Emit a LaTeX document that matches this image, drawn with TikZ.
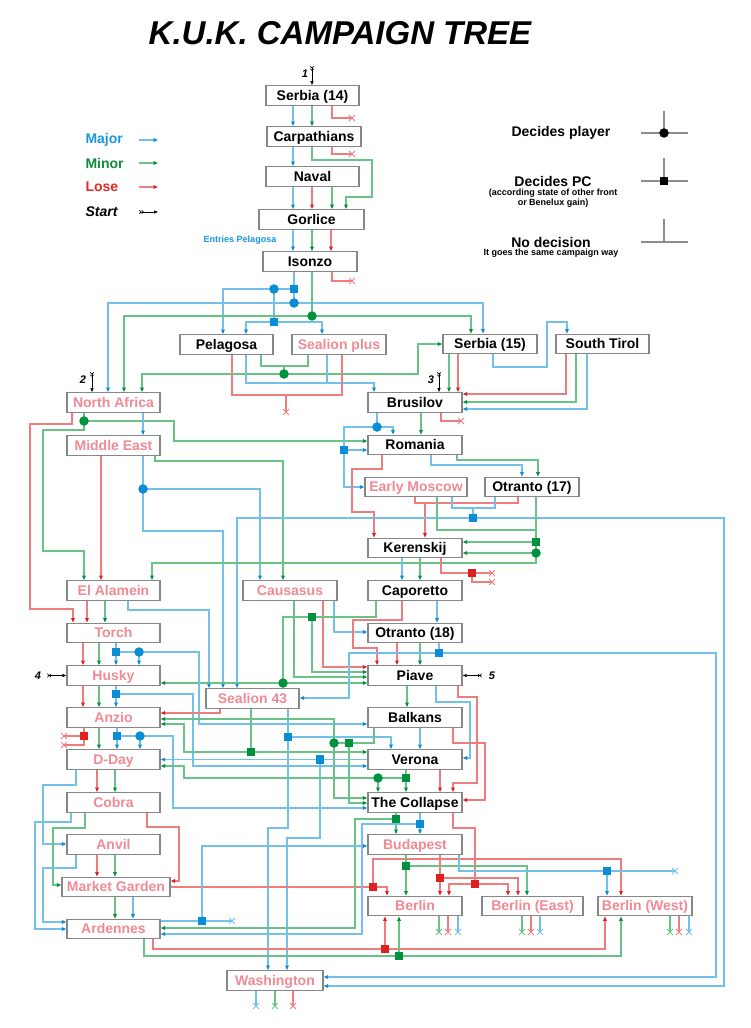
\documentclass[tikz,border=0pt]{standalone}
\usepackage{fontspec}
\setmainfont{Liberation Sans}
\usetikzlibrary{arrows.meta,shapes.misc}
\definecolor{lnB}{RGB}{115,192,235}
\definecolor{lnG}{RGB}{105,195,135}
\definecolor{lnR}{RGB}{240,125,125}
\definecolor{mkB}{RGB}{10,140,215}
\definecolor{mkG}{RGB}{0,145,60}
\definecolor{mkR}{RGB}{222,32,32}
\definecolor{pinkT}{RGB}{240,138,148}
\definecolor{boxG}{RGB}{135,135,135}
\definecolor{legB}{RGB}{25,150,222}
\definecolor{legG}{RGB}{15,140,60}
\definecolor{legR}{RGB}{228,40,40}
\definecolor{symG}{RGB}{140,140,140}
\pgfdeclarelayer{back}\pgfdeclarelayer{bg}\pgfsetlayers{back,bg,main}
\begin{document}
\begin{tikzpicture}[x=1pt,y=-1pt,
 bx/.style={draw=boxG,line width=1.4pt,fill=white,minimum height=19.5pt,inner sep=0pt,text height=11pt,text depth=2pt,font=\fontsize{14}{16}\selectfont\bfseries},
 bk/.style={bx,text=black,minimum width=#1pt},
 pk/.style={bx,text=pinkT,minimum width=#1pt},
 nB/.style={draw=lnB,line width=1.1pt},
 nG/.style={draw=lnG,line width=1.1pt},
 nR/.style={draw=lnR,line width=1.1pt},
 aB/.style={nB,-{Triangle[length=4.5pt,width=3.6pt,color=mkB]}},
 aG/.style={nG,-{Triangle[length=4.5pt,width=3.6pt,color=mkG]}},
 aR/.style={nR,-{Triangle[length=4.5pt,width=3.6pt,color=mkR]}},
 sqB/.style={rectangle,fill=mkB,minimum size=8.5pt,inner sep=0pt},
 sqG/.style={rectangle,fill=mkG,minimum size=8.5pt,inner sep=0pt},
 sqR/.style={rectangle,fill=mkR,minimum size=8.5pt,inner sep=0pt},
 dtB/.style={circle,fill=mkB,minimum size=9.5pt,inner sep=0pt},
 dtG/.style={circle,fill=mkG,minimum size=9.5pt,inner sep=0pt},
 xB/.style={cross out,draw=lnB,line width=0.9pt,minimum size=5pt,inner sep=0pt},
 xG/.style={cross out,draw=lnG,line width=0.9pt,minimum size=5pt,inner sep=0pt},
 xR/.style={cross out,draw=lnR,line width=0.9pt,minimum size=5pt,inner sep=0pt},
 st/.style={draw=black,line width=0.7pt,{Straight Barb[reversed,length=1.6pt,width=3.4pt]Straight Barb[reversed,length=1.6pt,width=3.4pt]}-{Triangle[length=4pt,width=3pt]}},
 num/.style={font=\fontsize{11}{12}\selectfont\bfseries\itshape},
 leg/.style={font=\fontsize{14}{16}\selectfont\bfseries},
 legs/.style={font=\fontsize{9}{9.5}\selectfont\bfseries,align=center},
 sym/.style={draw=symG,line width=1.2pt},
]
\begin{pgfonlayer}{back}
\fill[white] (0,0) rectangle (750,1028);
\end{pgfonlayer}
\useasboundingbox (0,0) rectangle (750,1028);

% title and legend
\node[font=\fontsize{33}{36}\selectfont\bfseries\itshape] (title) at (340,33) {K.U.K. CAMPAIGN TREE};
\node[leg,anchor=west,text=legB] (lmaj) at (82,140) {Major};
\node[leg,anchor=west,text=legG] (lmin) at (82,163) {Minor};
\node[leg,anchor=west,text=legR] (llos) at (82,187) {Lose};
\node[leg,anchor=west,font=\fontsize{14}{16}\selectfont\bfseries\itshape] (lsta) at (82,212) {Start};
\coordinate (lmajA) at (139,140); \coordinate (lmajB) at (158,140);
\coordinate (lminA) at (139,163); \coordinate (lminB) at (158,163);
\coordinate (llosA) at (139,187); \coordinate (llosB) at (158,187);
\coordinate (lstaA) at (139,212); \coordinate (lstaB) at (158,212);
\draw[aB] (lmajA) -- (lmajB);
\draw[aG] (lminA) -- (lminB);
\draw[aR] (llosA) -- (llosB);
\draw[st] (lstaA) -- (lstaB);

\node[leg] (ldp) at (561,133) {Decides player};
\node[leg] (ldpc) at (553,181) {Decides PC};
\node[legs] (ldpcs) at (553,198) {(according state of other front\\or Benelux gain)};
\node[legs] (lnds) at (551,253.5) {It goes the same campaign way};
\node[leg] (lnd) at (551,242) {No decision};
\draw[sym] (641,133) -- (688,133); \draw[sym] (664,111) -- (664,133);
\draw[sym] (641,181) -- (688,181); \draw[sym] (664,158) -- (664,181);
\draw[sym] (641,242) -- (688,242); \draw[sym] (664,219) -- (664,242);
\node[circle,fill=black,minimum size=9.5pt,inner sep=0pt] (symdot) at (664,133) {};
\node[rectangle,fill=black,minimum size=8.5pt,inner sep=0pt] (symsq) at (664,181) {};

\node[font=\fontsize{9}{10}\selectfont\bfseries,text=legB] (entries) at (240,240) {Entries Pelagosa};

% campaign boxes
\node[bk=93] (serbia14) at (312.5,95.5) {Serbia (14)};
\node[bk=94] (carpathians) at (314,136.5) {Carpathians};
\node[bk=93] (naval) at (312.5,176.5) {Naval};
\node[bk=105] (gorlice) at (311.5,219.5) {Gorlice};
\node[bk=94] (isonzo) at (310,261.5) {Isonzo};
\node[bk=93] (pelagosa) at (226.5,344.5) {Pelagosa};
\node[pk=94] (sealionplus) at (339,344.5) {Sealion plus};
\node[bk=94] (serbia15) at (490,344) {Serbia (15)};
\node[bk=93] (southtirol) at (602.5,344) {South Tirol};
\node[pk=93] (northafrica) at (113.5,402.5) {North Africa};
\node[bk=94] (brusilov) at (415,402.5) {Brusilov};
\node[pk=93] (middleeast) at (113.5,445.5) {Middle East};
\node[bk=94] (romania) at (415,445) {Romania};
\node[pk=102] (earlymoscow) at (416,487) {Early Moscow};
\node[bk=94] (otranto17) at (532,487) {Otranto (17)};
\node[bk=94] (kerenskij) at (415,548) {Kerenskij};
\node[pk=93] (elalamein) at (113.5,590.5) {El Alamein};
\node[pk=94] (causasus) at (290,590.5) {Causasus};
\node[bk=94] (caporetto) at (415,590.5) {Caporetto};
\node[pk=93] (torch) at (113.5,633) {Torch};
\node[bk=94] (otranto18) at (415,633) {Otranto (18)};
\node[pk=93] (husky) at (113.5,675.5) {Husky};
\node[bk=94] (piave) at (415,675.5) {Piave};
\node[pk=93] (sealion43) at (252.5,698.5) {Sealion 43};
\node[pk=93] (anzio) at (113.5,717.5) {Anzio};
\node[bk=94] (balkans) at (415,717.5) {Balkans};
\node[pk=93] (dday) at (113.5,759.5) {D-Day};
\node[bk=94] (verona) at (415,759.5) {Verona};
\node[pk=93] (cobra) at (113.5,802.5) {Cobra};
\node[bk=94] (collapse) at (415,802.5) {The Collapse};
\node[pk=93] (anvil) at (113.5,844.5) {Anvil};
\node[pk=94] (budapest) at (415,844.5) {Budapest};
\node[pk=108] (marketgarden) at (116,887) {Market Garden};
\node[pk=93] (ardennes) at (113.5,929) {Ardennes};
\node[pk=94] (berlin) at (415,906) {Berlin};
\node[pk=101] (berlineast) at (532.5,906) {Berlin (East)};
\node[pk=94] (berlinwest) at (645,906) {Berlin (West)};
\node[pk=96] (washington) at (275,980.5) {Washington};

% start numbers
\node[num] (n1) at (305,74) {1};
\node[num] (n2) at (83,380) {2};
\node[num] (n3) at (431,380) {3};
\node[num] (n4) at (38,676) {4};
\node[num] (n5) at (492,676) {5};
\coordinate (s1) at (312,66);
\coordinate (s2) at (92,372);
\coordinate (s3) at (439,372);
\coordinate (s4) at (47,675.5);
\coordinate (s5) at (482,675.5);

% junctions
\node[dtB] (jI1) at (274,289) {};
\node[sqB] (jI2) at (294,289) {};
\node[dtB] (jI3) at (294,303) {};
\node[dtG] (jI4) at (312,316) {};
\node[sqB] (jI5) at (274,322) {};
\node[dtG] (jP1) at (284,374) {};
\node[dtG] (jN1) at (84,421) {};
\node[dtB] (jM1) at (143,489) {};
\node[dtB] (jB1) at (377,427) {};
\node[sqB] (jB2) at (344,450) {};
\node[sqB] (jE1) at (473,518) {};
\node[sqG] (jE2) at (536,542) {};
\node[dtG] (jE3) at (536,553) {};
\node[sqR] (jK1) at (472,573) {};
\node[sqG] (jC1) at (312,617) {};
\node[dtG] (jC2) at (283,683) {};
\node[sqB] (jO1) at (439,653) {};
\node[sqB] (jT1) at (116,652) {};
\node[dtB] (jT2) at (139,652) {};
\node[sqB] (jH1) at (116,694) {};
\node[sqG] (jS1) at (251,752) {};
\node[sqB] (jS2) at (288,737) {};
\node[dtG] (jBk1) at (334,743) {};
\node[sqG] (jBk2) at (349,743) {};
\node[sqR] (jA1) at (84,736) {};
\node[sqB] (jA2) at (117,736) {};
\node[dtB] (jA3) at (140,736) {};
\node[sqB] (jV0) at (320,759.5) {};
\node[dtG] (jV1) at (378,778) {};
\node[sqG] (jV2) at (406,778) {};
\node[sqR] (jMG) at (373,887) {};
\node[sqG] (jCo1) at (396,819) {};
\node[sqB] (jCo2) at (420,824) {};
\node[sqR] (jCo3) at (475,884) {};
\node[sqG] (jBu1) at (406,866) {};
\node[sqR] (jBu2) at (440,878) {};
\node[sqB] (jBu3) at (607,871) {};
\node[sqB] (jAr1) at (202,921) {};
\node[sqR] (jAr2) at (385,949) {};
\node[sqG] (jAr3) at (399,956) {};

% lose ends
\node[xR] (xa) at (352,118) {};
\node[xR] (xb) at (352,154) {};
\node[xR] (xc) at (352,281) {};
\node[xR] (xd) at (286,412) {};
\node[xR] (xe) at (461,421) {};
\node[xR] (xf) at (492,573) {};
\node[xR] (xg) at (492,582) {};
\node[xR] (xh) at (64,736) {};
\node[xR] (xi) at (64,745) {};
\node[xB] (xj) at (675,871) {};
\node[xB] (xk) at (232,921) {};
\node[xG] (xb1) at (439,932) {};
\node[xR] (xb2) at (448,932) {};
\node[xB] (xb3) at (458,932) {};
\node[xG] (xe1) at (522,932) {};
\node[xR] (xe2) at (531,932) {};
\node[xB] (xe3) at (540,932) {};
\node[xG] (xw1) at (670,932) {};
\node[xR] (xw2) at (679,932) {};
\node[xB] (xw3) at (689,932) {};
\node[xB] (xz1) at (256,1006) {};
\node[xG] (xz2) at (275,1006) {};
\node[xR] (xz3) at (293,1006) {};

\begin{pgfonlayer}{bg}
% start arrows
\draw[st] (s1) -- (312,0 |- serbia14.north);
\draw[st] (s2) -- (92,0 |- northafrica.north);
\draw[st] (s3) -- (439,0 |- brusilov.north);
\draw[st] (s4) -- (husky.west);
\draw[st] (s5) -- (piave.east);

% top chain
\draw[aB] (293,0 |- serbia14.south) -- (293,0 |- carpathians.north);
\draw[aG] (312,0 |- serbia14.south) -- (312,0 |- carpathians.north);
\draw[nR] (332,0 |- serbia14.south) |- (xa.center);
\draw[aB] (293,0 |- carpathians.south) -- (293,0 |- naval.north);
\draw[nR] (332,0 |- carpathians.south) |- (xb.center);
\draw[aG] (312,0 |- carpathians.south) -- (312,160) -- (372,160) -- (372,197) -- (346,197) -- (346,0 |- gorlice.north);
\draw[aB] (293,0 |- naval.south) -- (293,0 |- gorlice.north);
\draw[aR] (312,0 |- naval.south) -- (312,0 |- gorlice.north);
\draw[aG] (332,0 |- naval.south) -- (332,0 |- gorlice.north);
\draw[aB] (293,0 |- gorlice.south) -- (293,0 |- isonzo.north);
\draw[aG] (312,0 |- gorlice.south) -- (312,0 |- isonzo.north);
\draw[aR] (331,0 |- gorlice.south) -- (331,0 |- isonzo.north);
\draw[nR] (332,0 |- isonzo.south) |- (xc.center);

% Isonzo exits
\draw[nB] (294,0 |- isonzo.south) -- (jI2.center) -- (jI3.center);
\draw[nB] (jI2.center) -- (jI1.center) -- (jI5.center);
\draw[aB] (jI1.center) -- (223,289) -- (223,0 |- pelagosa.north);
\draw[aB] (jI5.center) -- (246,322) -- (246,0 |- pelagosa.north);
\draw[aB] (jI5.center) -- (322,322) -- (322,0 |- sealionplus.north);
\draw[aB] (jI3.center) -- (108,303) -- (108,0 |- northafrica.north);
\draw[aB] (jI3.center) -- (483,303) -- (483,0 |- serbia15.north);
\draw[nG] (312,0 |- isonzo.south) -- (jI4.center);
\draw[aG] (jI4.center) -- (124,316) -- (124,0 |- northafrica.north);
\draw[aG] (jI4.center) -- (471,316) -- (471,0 |- serbia15.north);

% Pelagosa / Sealion plus
\draw[nG] (261,0 |- pelagosa.south) -- (261,366) -- (308,366) -- (308,0 |- sealionplus.south);
\draw[nG] (284,366) -- (jP1.center);
\draw[aG] (jP1.center) -- (142,374) -- (142,0 |- northafrica.north);
\draw[aG] (jP1.center) -- (418,374) -- (418,0 |- serbia15.west) -- (serbia15.west);
\draw[aB] (246,0 |- pelagosa.south) -- (246,383) -- (374,383) -- (374,0 |- brusilov.north);
\draw[nB] (327,0 |- sealionplus.south) -- (327,383);
\draw[nR] (232,0 |- pelagosa.south) -- (232,395) -- (342,395) -- (342,0 |- sealionplus.south);
\draw[nR] (286,395) -- (xd.center);

% Serbia (15) / South Tirol / Brusilov
\draw[aG] (449,0 |- serbia15.south) -- (449,0 |- brusilov.north);
\draw[aR] (458,0 |- serbia15.south) -- (458,0 |- brusilov.north);
\draw[aB] (493,0 |- serbia15.south) -- (493,367) -- (547,367) -- (547,322) -- (567,322) -- (567,0 |- southtirol.north);
\draw[aR] (566,0 |- southtirol.south) -- (566,394) -- (brusilov.east |- 0,394);
\draw[aG] (576,0 |- southtirol.south) -- (576,402) -- (brusilov.east |- 0,402);
\draw[aB] (587,0 |- southtirol.south) -- (587,409) -- (brusilov.east |- 0,409);
\draw[nR] (441,0 |- brusilov.south) |- (xe.center);

% North Africa / Middle East
\draw[aR] (72,0 |- northafrica.south) -- (72,424) -- (30,424) -- (30,609) -- (73,609) -- (73,0 |- torch.north);
\draw[nG] (84,0 |- northafrica.south) -- (jN1.center);
\draw[aG] (jN1.center) -- (84,430) -- (43,430) -- (43,551) -- (84,551) -- (84,0 |- elalamein.north);
\draw[aG] (jN1.center) -- (174,421) -- (174,441) -- (romania.west |- 0,441);
\draw[aB] (143,0 |- northafrica.south) -- (143,0 |- middleeast.north);
\draw[aR] (101,0 |- middleeast.south) -- (101,0 |- elalamein.north);
\draw[nB] (143,0 |- middleeast.south) -- (jM1.center);
\draw[aB] (jM1.center) -- (260,489) -- (260,0 |- causasus.north);
\draw[aB] (jM1.center) -- (143,531) -- (223,531) -- (223,0 |- sealion43.north);
\draw[aG] (155,0 |- middleeast.south) -- (155,461) -- (283,461) -- (283,0 |- causasus.north);

% Brusilov / Romania
\draw[nB] (377,0 |- brusilov.south) -- (jB1.center);
\draw[aB] (jB1.center) -- (393,427) -- (393,0 |- romania.north);
\draw[nB] (jB1.center) -- (344,427) -- (jB2.center);
\draw[aB] (jB2.center) -- (romania.west |- 0,450);
\draw[aB] (jB2.center) -- (344,487) -- (earlymoscow.west |- 0,487);
\draw[aG] (421,0 |- brusilov.south) -- (421,0 |- romania.north);
\draw[aR] (382,0 |- romania.south) -- (382,469) -- (352,469) -- (352,512) -- (374,512) -- (374,0 |- kerenskij.north);
\draw[aB] (431,0 |- romania.south) -- (431,465) -- (522,465) -- (522,0 |- otranto17.north);
\draw[aG] (457,0 |- romania.south) -- (457,460) -- (538,460) -- (538,0 |- otranto17.north);

% Early Moscow / Otranto (17)
\draw[nR] (415,0 |- earlymoscow.south) -- (415,503) -- (518,503) -- (518,0 |- otranto17.south);
\draw[aR] (425,503) -- (425,0 |- kerenskij.north);
\draw[nB] (452,0 |- earlymoscow.south) -- (452,508) -- (495,508) -- (495,0 |- otranto17.south);
\draw[nB] (473,508) -- (jE1.center);
\draw[aB] (jE1.center) -- (237,518) -- (237,0 |- sealion43.north);
\draw[aB] (jE1.center) -- (724,518) -- (724,986) -- (washington.east |- 0,986);
\draw[nG] (437,0 |- earlymoscow.south) -- (437,530) -- (536,530);
\draw[aG] (536,0 |- otranto17.south) -- (536,563) -- (152,563) -- (152,0 |- elalamein.north);
\draw[aG] (jE2.center) -- (kerenskij.east |- 0,542);
\draw[aG] (jE3.center) -- (kerenskij.east |- 0,553);

% Kerenskij
\draw[aB] (402,0 |- kerenskij.south) -- (402,0 |- caporetto.north);
\draw[aG] (420,0 |- kerenskij.south) -- (420,0 |- caporetto.north);
\draw[nR] (441,0 |- kerenskij.south) -- (441,573) -- (jK1.center) -- (xf.center);
\draw[nR] (jK1.center) -- (472,582) -- (xg.center);

% El Alamein / Causasus
\draw[aR] (87,0 |- elalamein.south) -- (87,0 |- torch.north);
\draw[aG] (105,0 |- elalamein.south) -- (105,0 |- torch.north);
\draw[aB] (128,0 |- elalamein.south) -- (128,610) -- (209,610) -- (209,0 |- sealion43.north);
\draw[aG] (294,0 |- causasus.south) -- (294,677) -- (piave.west |- 0,677);
\draw[aR] (323,0 |- causasus.south) -- (323,667) -- (piave.west |- 0,667);
\draw[aB] (334,0 |- causasus.south) -- (334,632) -- (otranto18.west |- 0,632);

% Caporetto / Otranto (18)
\draw[nG] (376,0 |- caporetto.south) -- (376,617) -- (283,617) -- (jC2.center);
\draw[aG] (jC1.center) -- (312,672) -- (piave.west |- 0,672);
\draw[aG] (jC2.center) -- (husky.east |- 0,683);
\draw[aG] (jC2.center) -- (piave.west |- 0,683);
\draw[aR] (402,0 |- caporetto.south) -- (402,620) -- (353,620) -- (353,648) -- (377,648) -- (377,0 |- piave.north);
\draw[aB] (437,0 |- caporetto.south) -- (437,0 |- otranto18.north);
\draw[aR] (397,0 |- otranto18.south) -- (397,0 |- piave.north);
\draw[aG] (420,0 |- otranto18.south) -- (420,0 |- piave.north);
\draw[nB] (439,0 |- otranto18.south) -- (jO1.center);
\draw[aB] (jO1.center) -- (716,653) -- (716,977) -- (washington.east |- 0,977);
\draw[aB] (jO1.center) -- (349,653) -- (349,698) -- (sealion43.east |- 0,698);

% Torch / Husky
\draw[aR] (83,0 |- torch.south) -- (83,0 |- husky.north);
\draw[aG] (99,0 |- torch.south) -- (99,0 |- husky.north);
\draw[nB] (116,0 |- torch.south) -- (jT1.center) -- (jT2.center);
\draw[aB] (jT1.center) -- (116,0 |- husky.north);
\draw[aB] (jT2.center) -- (139,0 |- husky.north);
\draw[aB] (jT2.center) -- (199,652) -- (199,724) -- (balkans.west |- 0,724);
\draw[aR] (83,0 |- husky.south) -- (83,0 |- anzio.north);
\draw[aG] (99,0 |- husky.south) -- (99,0 |- anzio.north);
\draw[nB] (116,0 |- husky.south) -- (jH1.center);
\draw[aB] (jH1.center) -- (116,0 |- anzio.north);
\draw[aB] (jH1.center) -- (193,694) -- (193,766) -- (verona.west |- 0,766);

% Sealion 43
\draw[aR] (220,0 |- sealion43.south) -- (220,713) -- (anzio.east |- 0,713);
\draw[nG] (251,0 |- sealion43.south) -- (jS1.center);
\draw[aG] (jS1.center) -- (184,752) -- (184,724) -- (anzio.east |- 0,724);
\draw[aG] (jS1.center) -- (verona.west |- 0,752);
\draw[nB] (288,0 |- sealion43.south) -- (jS2.center);
\draw[aB] (jS2.center) -- (391,737) -- (391,0 |- verona.north);
\draw[aB] (jS2.center) -- (288,828) -- (268,828) -- (268,0 |- washington.north);

% Piave / Balkans
\draw[aG] (407,0 |- piave.south) -- (407,0 |- balkans.north);
\draw[aB] (436,0 |- piave.south) -- (436,702) -- (470,702) -- (470,758) -- (verona.east |- 0,758);
\draw[aR] (458,0 |- piave.south) -- (458,697) -- (477,697) -- (477,783) -- (453,783) -- (453,0 |- collapse.north);
\draw[aB] (420,0 |- balkans.south) -- (420,0 |- verona.north);
\draw[aR] (453,0 |- balkans.south) -- (453,743) -- (485,743) -- (485,800) -- (collapse.east |- 0,800);
\draw[nG] (374,0 |- balkans.south) -- (374,743) -- (jBk1.center);
\draw[aG] (jBk1.center) -- (334,719) -- (anzio.east |- 0,719);
\draw[aG] (jBk1.center) -- (334,798) -- (collapse.west |- 0,798);
\draw[aG] (jBk2.center) -- (349,803) -- (collapse.west |- 0,803);

% Anzio
\draw[nR] (84,0 |- anzio.south) -- (jA1.center) -- (xh.center);
\draw[nR] (jA1.center) -- (84,745) -- (xi.center);
\draw[aG] (99,0 |- anzio.south) -- (99,0 |- dday.north);
\draw[nB] (117,0 |- anzio.south) -- (jA2.center) -- (jA3.center);
\draw[aB] (jA2.center) -- (117,0 |- dday.north);
\draw[aB] (jA3.center) -- (140,0 |- dday.north);
\draw[aB] (jA3.center) -- (173,736) -- (173,808) -- (collapse.west |- 0,808);

% Verona
\draw[aB] (verona.west) -- (dday.east);
\draw[aB] (jV0.center) -- (320,838) -- (287,838) -- (287,0 |- washington.north);
\draw[nG] (406,0 |- verona.south) -- (jV2.center) -- (jV1.center);
\draw[aG] (jV2.center) -- (406,0 |- collapse.north);
\draw[aG] (jV1.center) -- (378,0 |- collapse.north);
\draw[aG] (jV1.center) -- (184,778) -- (184,766) -- (dday.east |- 0,766);
\draw[aR] (440,0 |- verona.south) -- (440,0 |- collapse.north);

% D-Day / Cobra / Anvil / Market Garden
\draw[aB] (76,0 |- dday.south) -- (76,785) -- (43,785) -- (43,844) -- (anvil.west |- 0,844);
\draw[aR] (97,0 |- dday.south) -- (97,0 |- cobra.north);
\draw[aG] (115,0 |- dday.south) -- (115,0 |- cobra.north);
\draw[aB] (71,0 |- cobra.south) -- (71,822) -- (35,822) -- (35,929) -- (ardennes.west |- 0,929);
\draw[aG] (85,0 |- cobra.south) -- (85,828) -- (53,828) -- (53,885) -- (marketgarden.west |- 0,885);
\draw[aR] (147,0 |- cobra.south) -- (147,827) -- (179,827) -- (179,881) -- (marketgarden.east |- 0,881);
\draw[aB] (76,0 |- anvil.south) -- (76,868) -- (43,868) -- (43,922) -- (ardennes.west |- 0,922);
\draw[aR] (97,0 |- anvil.south) -- (97,0 |- marketgarden.north);
\draw[aG] (115,0 |- anvil.south) -- (115,0 |- marketgarden.north);
\draw[aG] (115,0 |- marketgarden.south) -- (115,0 |- ardennes.north);
\draw[aB] (133,0 |- marketgarden.south) -- (133,0 |- ardennes.north);
\draw[nR] (marketgarden.east) -- (jMG.center);
\draw[aR] (jMG.center) -- (387,887) -- (387,0 |- berlin.north);
\draw[aR] (jMG.center) -- (373,859) -- (621,859) -- (621,0 |- berlinwest.north);

% The Collapse
\draw[nG] (396,0 |- collapse.south) -- (jCo1.center);
\draw[aG] (jCo1.center) -- (396,0 |- budapest.north);
\draw[aG] (jCo1.center) -- (355,819) -- (355,928) -- (ardennes.east |- 0,928);
\draw[nB] (420,0 |- collapse.south) -- (jCo2.center);
\draw[aB] (jCo2.center) -- (420,0 |- budapest.north);
\draw[aB] (jCo2.center) -- (362,824) -- (362,934) -- (ardennes.east |- 0,934);
\draw[nR] (453,0 |- collapse.south) -- (453,828) -- (475,828) -- (jCo3.center);
\draw[aR] (jCo3.center) -- (449,884) -- (449,0 |- berlin.north);
\draw[aR] (jCo3.center) -- (508,884) -- (508,0 |- berlineast.north);

% Budapest
\draw[nG] (406,0 |- budapest.south) -- (jBu1.center);
\draw[aG] (jBu1.center) -- (406,0 |- berlin.north);
\draw[aG] (jBu1.center) -- (527,866) -- (527,0 |- berlineast.north);
\draw[nR] (440,0 |- budapest.south) -- (jBu2.center);
\draw[aR] (jBu2.center) -- (440,0 |- berlin.north);
\draw[aR] (jBu2.center) -- (518,878) -- (518,0 |- berlineast.north);
\draw[nB] (459,0 |- budapest.south) -- (459,871) -- (jBu3.center) -- (xj.center);
\draw[aB] (jBu3.center) -- (607,0 |- berlinwest.north);

% Ardennes
\draw[nB] (ardennes.east |- 0,921) -- (jAr1.center) -- (xk.center);
\draw[aB] (jAr1.center) -- (202,846) -- (budapest.west |- 0,846);
\draw[nR] (153,0 |- ardennes.south) -- (153,949) -- (jAr2.center);
\draw[aR] (jAr2.center) -- (385,0 |- berlin.south);
\draw[aR] (jAr2.center) -- (605,949) -- (605,0 |- berlinwest.south);
\draw[nG] (144,0 |- ardennes.south) -- (144,956) -- (jAr3.center);
\draw[aG] (jAr3.center) -- (399,0 |- berlin.south);
\draw[aG] (jAr3.center) -- (621,956) -- (621,0 |- berlinwest.south);

% final lose ends
\draw[nG] (439,0 |- berlin.south) -- (xb1.center);
\draw[nR] (448,0 |- berlin.south) -- (xb2.center);
\draw[nB] (458,0 |- berlin.south) -- (xb3.center);
\draw[nG] (522,0 |- berlineast.south) -- (xe1.center);
\draw[nR] (531,0 |- berlineast.south) -- (xe2.center);
\draw[nB] (540,0 |- berlineast.south) -- (xe3.center);
\draw[nG] (670,0 |- berlinwest.south) -- (xw1.center);
\draw[nR] (679,0 |- berlinwest.south) -- (xw2.center);
\draw[nB] (689,0 |- berlinwest.south) -- (xw3.center);
\draw[nB] (256,0 |- washington.south) -- (xz1.center);
\draw[nG] (275,0 |- washington.south) -- (xz2.center);
\draw[nR] (293,0 |- washington.south) -- (xz3.center);
\end{pgfonlayer}
\end{tikzpicture}
\end{document}
